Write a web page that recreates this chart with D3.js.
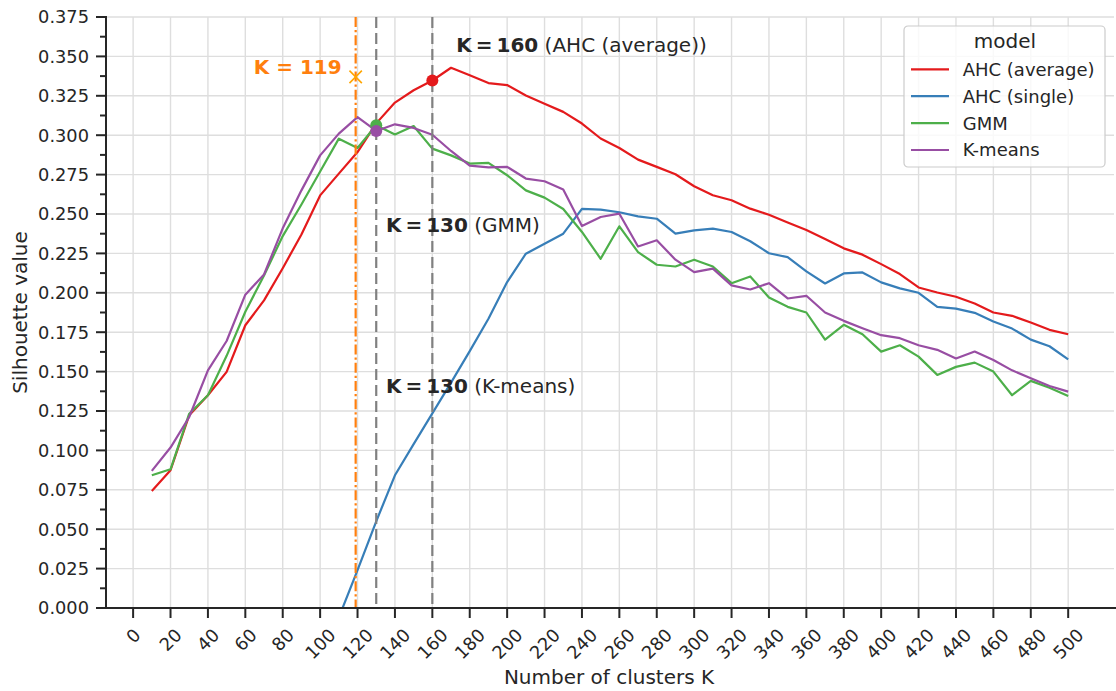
<!DOCTYPE html>
<html>
<head>
<meta charset="utf-8">
<script src="https://cdn.jsdelivr.net/npm/d3@7"></script>
<style>
  html, body { margin: 0; padding: 0; background: #ffffff; }
  svg { display: block; font-family: "DejaVu Sans", sans-serif; }
</style>
</head>
<body>
<svg id="chart" width="1116" height="691"></svg>
<script>
// ---- data -------------------------------------------------------------
const kValues = d3.range(10, 501, 10);

const ahcAverage = [
  0.0743, 0.0874, 0.1223, 0.1350, 0.1498, 0.1794, 0.1952, 0.2156, 0.2370, 0.2618,
  0.2756, 0.2893, 0.3075, 0.3207, 0.3285, 0.3347, 0.3428, 0.3380, 0.3331, 0.3318,
  0.3252, 0.3200, 0.3148, 0.3074, 0.2979, 0.2919, 0.2845, 0.2799, 0.2752, 0.2676,
  0.2619, 0.2587, 0.2534, 0.2495, 0.2446, 0.2398, 0.2341, 0.2282, 0.2242, 0.2182,
  0.2119, 0.2034, 0.2002, 0.1975, 0.1932, 0.1875, 0.1854, 0.1811, 0.1765, 0.1737
];

// single linkage is below zero up to K = 100; the visible part starts at K = 110
const ahcSingleK = d3.range(110, 501, 10);
const ahcSingle = [
  -0.0060, 0.0240, 0.0550, 0.0842, 0.1040, 0.1235, 0.1430, 0.1630, 0.1835, 0.2068,
  0.2248, 0.2311, 0.2375, 0.2532, 0.2528, 0.2511, 0.2485, 0.2470, 0.2375, 0.2396,
  0.2407, 0.2386, 0.2327, 0.2251, 0.2226, 0.2136, 0.2059, 0.2123, 0.2129, 0.2066,
  0.2028, 0.2000, 0.1911, 0.1900, 0.1873, 0.1818, 0.1773, 0.1703, 0.1661, 0.1578
];

const gmm = [
  0.0842, 0.0880, 0.1233, 0.1350, 0.1600, 0.1880, 0.2110, 0.2360, 0.2560, 0.2770,
  0.2978, 0.2919, 0.3063, 0.3005, 0.3058, 0.2915, 0.2872, 0.2820, 0.2824, 0.2746,
  0.2650, 0.2604, 0.2532, 0.2386, 0.2216, 0.2422, 0.2258, 0.2178, 0.2167, 0.2210,
  0.2167, 0.2061, 0.2104, 0.1970, 0.1911, 0.1875, 0.1703, 0.1797, 0.1737, 0.1627,
  0.1667, 0.1595, 0.1479, 0.1530, 0.1557, 0.1500, 0.1350, 0.1441, 0.1398, 0.1345
];

const kMeans = [
  0.0870, 0.1018, 0.1212, 0.1508, 0.1694, 0.1988, 0.2116, 0.2409, 0.2650, 0.2872,
  0.3010, 0.3115, 0.3027, 0.3069, 0.3046, 0.3003, 0.2900, 0.2807, 0.2796, 0.2799,
  0.2725, 0.2708, 0.2655, 0.2424, 0.2481, 0.2502, 0.2294, 0.2333, 0.2210, 0.2131,
  0.2153, 0.2047, 0.2021, 0.2061, 0.1964, 0.1981, 0.1875, 0.1822, 0.1775, 0.1731,
  0.1712, 0.1667, 0.1638, 0.1583, 0.1627, 0.1574, 0.1508, 0.1458, 0.1409, 0.1373
];

const modelNames = ["AHC (average)", "AHC (single)", "GMM", "K-means"];
const modelColors = ["#e41a1c", "#377eb8", "#4daf4a", "#984ea3"];

const xTicks = d3.range(0, 501, 20);
const yTicks = d3.range(0, 16).map(i => i * 0.025);
const yMinorTicks = d3.range(0, 15).map(i => i * 0.025 + 0.0125);

// chosen K per model and the elbow estimate
const bestAverageK = 160;
const bestGmmK = 130;
const bestKMeansK = 130;
const elbowK = 119;
const elbowValue = 0.337;

// ---- layout -----------------------------------------------------------
const svg = d3.select("#chart");
const plotL = 106, plotR = 1114, plotT = 17, plotB = 608;
const ink = "#262626";

const x = d3.scaleLinear().domain([-14.5, 524.5]).range([plotL, plotR]);
const y = d3.scaleLinear().domain([0, 0.375]).range([plotB, plotT]);

const series = [
  { name: modelNames[0], color: modelColors[0], pts: kValues.map((k, i) => [k, ahcAverage[i]]) },
  { name: modelNames[1], color: modelColors[1], pts: ahcSingleK.map((k, i) => [k, ahcSingle[i]]) },
  { name: modelNames[2], color: modelColors[2], pts: kValues.map((k, i) => [k, gmm[i]]) },
  { name: modelNames[3], color: modelColors[3], pts: kValues.map((k, i) => [k, kMeans[i]]) }
];
const valueAt = (arr, ks, k) => arr[ks.indexOf(k)];

svg.append("defs").append("clipPath").attr("id", "plotClip")
  .append("rect").attr("x", plotL).attr("y", plotT)
  .attr("width", plotR - plotL).attr("height", plotB - plotT);

// grid
const grid = svg.append("g").attr("stroke", "#dedede").attr("stroke-width", 1.4);
grid.selectAll("line.gx").data(xTicks).join("line").attr("class", "gx")
  .attr("x1", d => x(d)).attr("x2", d => x(d)).attr("y1", plotT).attr("y2", plotB);
grid.selectAll("line.gy").data(yTicks).join("line").attr("class", "gy")
  .attr("x1", plotL).attr("x2", plotR).attr("y1", d => y(d)).attr("y2", d => y(d));

// series lines
const plot = svg.append("g").attr("clip-path", "url(#plotClip)");
const line = d3.line().x(d => x(d[0])).y(d => y(d[1]));
plot.selectAll("path.series").data(series).join("path")
  .attr("class", "series")
  .attr("fill", "none")
  .attr("stroke", d => d.color)
  .attr("stroke-width", 2.2)
  .attr("stroke-linejoin", "round")
  .attr("d", d => line(d.pts));

// reference lines for the chosen K
[bestGmmK, bestAverageK].forEach(k => {
  plot.append("line")
    .attr("x1", x(k)).attr("x2", x(k)).attr("y1", plotT).attr("y2", plotB)
    .attr("stroke", "#808080").attr("stroke-width", 2.2)
    .attr("stroke-dasharray", "11,5");
});
plot.append("line")
  .attr("x1", x(elbowK)).attr("x2", x(elbowK)).attr("y1", plotT).attr("y2", plotB)
  .attr("stroke", "#ff7f0e").attr("stroke-width", 2.2)
  .attr("stroke-dasharray", "10,3,2.2,3");

// markers at the chosen K
const dots = [
  [bestAverageK, valueAt(ahcAverage, kValues, bestAverageK), modelColors[0]],
  [bestGmmK, valueAt(gmm, kValues, bestGmmK), modelColors[2]],
  [bestKMeansK, valueAt(kMeans, kValues, bestKMeansK), modelColors[3]]
];
plot.selectAll("circle.best").data(dots).join("circle").attr("class", "best")
  .attr("cx", d => x(d[0])).attr("cy", d => y(d[1])).attr("r", 6)
  .attr("fill", d => d[2]);

// elbow cross
const ex = x(elbowK), ey = y(elbowValue), es = 6.2;
svg.append("path")
  .attr("d", `M${ex - es},${ey - es}L${ex + es},${ey + es}M${ex - es},${ey + es}L${ex + es},${ey - es}`)
  .attr("stroke", "#ffa500").attr("stroke-width", 1.6).attr("fill", "none");
svg.append("text")
  .attr("x", ex - 14).attr("y", ey - 2.6)
  .attr("text-anchor", "end")
  .attr("font-size", 20).attr("font-weight", "bold").attr("fill", "#ff7f0e")
  .text(`K = ${elbowK}`);

// annotations
function annotate(k, v, kValue, label) {
  const t = svg.append("text").attr("x", x(k)).attr("y", y(v))
    .attr("font-size", 20).attr("fill", ink);
  t.append("tspan").attr("font-weight", "bold").text(`K\u2009=\u2009${kValue}`);
  t.append("tspan").text(` (${label})`);
}
annotate(172.8, 0.3530, bestAverageK, "AHC (average)");
annotate(135.2, 0.2384, bestGmmK, "GMM");
annotate(135.2, 0.1362, bestKMeansK, "K-means");

// axes
const axes = svg.append("g").attr("stroke", ink).attr("stroke-width", 2);
axes.append("line").attr("x1", plotL).attr("x2", plotL).attr("y1", plotT - 1).attr("y2", plotB + 1);
axes.append("line").attr("x1", plotL - 1).attr("x2", plotR + 2).attr("y1", plotB).attr("y2", plotB);
axes.selectAll("line.ty").data(yTicks).join("line").attr("class", "ty")
  .attr("x1", plotL - 10).attr("x2", plotL).attr("y1", d => y(d)).attr("y2", d => y(d));
axes.selectAll("line.tym").data(yMinorTicks).join("line").attr("class", "tym")
  .attr("x1", plotL - 6).attr("x2", plotL).attr("y1", d => y(d)).attr("y2", d => y(d));
axes.selectAll("line.tx").data(xTicks).join("line").attr("class", "tx")
  .attr("x1", d => x(d)).attr("x2", d => x(d)).attr("y1", plotB).attr("y2", plotB + 10);

const tickSize = 17.8;
svg.append("g").selectAll("text").data(yTicks).join("text")
  .attr("x", plotL - 17).attr("y", d => y(d)).attr("dy", "0.36em")
  .attr("text-anchor", "end").attr("font-size", tickSize).attr("fill", ink)
  .text(d => d3.format(".3f")(d));

const xLabels = svg.append("g").selectAll("text").data(xTicks).join("text")
  .attr("text-anchor", "middle").attr("dy", "0.3645em")
  .attr("font-size", tickSize).attr("fill", ink)
  .text(d => d);
xLabels.each(function (d) {
  const w = this.getComputedTextLength();
  const half = (w + 0.729 * tickSize) / (2 * Math.SQRT2);
  d3.select(this).attr("transform", `translate(${x(d)},${627 + half}) rotate(-45)`);
});

svg.append("text")
  .attr("x", (plotL + plotR) / 2 - 1).attr("y", 684)
  .attr("text-anchor", "middle").attr("font-size", 20).attr("fill", ink)
  .text("Number of clusters K");
svg.append("text")
  .attr("transform", `translate(27,${(plotT + plotB) / 2}) rotate(-90)`)
  .attr("text-anchor", "middle").attr("font-size", 20).attr("fill", ink)
  .text("Silhouette value");

// legend
const lg = svg.append("g").attr("transform", "translate(904,26)");
lg.append("rect").attr("width", 201).attr("height", 141).attr("rx", 4)
  .attr("fill", "#ffffff").attr("fill-opacity", 0.8)
  .attr("stroke", "#cccccc").attr("stroke-width", 1.2);
lg.append("text").attr("x", 101).attr("y", 22).attr("text-anchor", "middle")
  .attr("font-size", 20).attr("fill", ink).text("model");
const entries = lg.selectAll("g.entry").data(series).join("g").attr("class", "entry")
  .attr("transform", (d, i) => `translate(0,${43.3 + i * 26.9})`);
entries.append("line").attr("x1", 7).attr("x2", 45).attr("y1", 0).attr("y2", 0)
  .attr("stroke", d => d.color).attr("stroke-width", 2.2);
entries.append("text").attr("x", 58.7).attr("dy", "0.36em")
  .attr("font-size", 18).attr("fill", ink).text(d => d.name);
</script>
</body>
</html>
